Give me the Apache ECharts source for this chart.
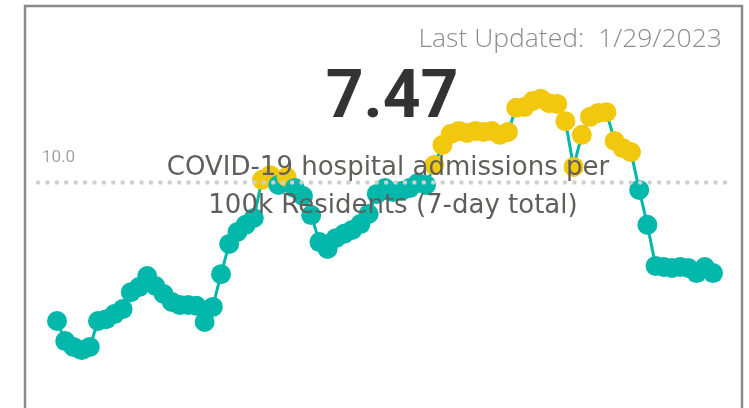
<!DOCTYPE html>
<html>
<head>
<meta charset="utf-8">
<script src="https://cdn.jsdelivr.net/npm/echarts@6/dist/echarts.min.js"></script>
<style>
  html, body { margin: 0; padding: 0; background: #fff; }
  #chart { width: 749px; height: 408px; }
</style>
</head>
<body>
<div id="chart"></div>
<script>
// 7-day hospital admissions per 100k, one value per day
var admissions = [
  6.14, 5.58, 5.42, 5.33, 5.42, 6.14, 6.19, 6.33, 6.47, 6.94,
  7.08, 7.39, 7.11, 6.89, 6.67, 6.58, 6.58, 6.56, 6.11, 6.53,
  7.44, 8.28, 8.61, 8.81, 9.00, 10.06, 10.19, 9.92, 10.14, 9.83,
  9.61, 9.08, 8.33, 8.14, 8.44, 8.56, 8.67, 8.83, 9.11, 9.67,
  9.83, 9.72, 9.75, 9.83, 9.97, 9.92, 10.47, 11.03, 11.33, 11.42,
  11.36, 11.42, 11.39, 11.42, 11.31, 11.39, 12.06, 12.08, 12.25, 12.31,
  12.19, 12.17, 11.69, 10.42, 11.31, 11.81, 11.92, 11.94, 11.14, 10.94,
  10.83, 9.78, 8.81, 7.67, 7.64, 7.61, 7.64, 7.61, 7.47, 7.64,
  7.47
];
var threshold = 10;
var latestValue = '7.47';
var lastUpdated = '1/29/2023';

var teal = '#01B8AA';
var yellow = '#F2C80F';

var points = admissions.map(function (v, i) { return [i, v]; });

var myChart = echarts.init(document.getElementById('chart'));
myChart.setOption({
  backgroundColor: '#fff',
  animation: false,
  grid: { left: 38, right: 21, top: 38, bottom: 10 },
  xAxis: {
    type: 'value',
    min: -2.32,
    max: admissions.length - 1 + 1.83,
    show: false
  },
  yAxis: {
    type: 'value',
    min: 4,
    max: 14,
    show: false
  },
  series: [{
    type: 'line',
    data: points,
    symbol: 'circle',
    symbolSize: 20,
    showAllSymbol: true,
    lineStyle: { color: teal, width: 3 },
    itemStyle: {
      color: function (p) { return p.value[1] >= threshold ? yellow : teal; }
    },
    markLine: {
      silent: true,
      symbol: 'none',
      lineStyle: { color: '#cfcfcf', width: 4.5, type: [0.01, 9.4], cap: 'round' },
      label: {
        show: true,
        position: 'insideStartTop',
        formatter: '10.0',
        color: '#a4a6ae',
        fontFamily: 'Roboto',
        fontSize: 17,
        distance: [4, 16]
      },
      data: [{ yAxis: threshold }]
    }
  }],
  graphic: [
    {
      type: 'rect',
      shape: { x: 25, y: 6, width: 717, height: 420 },
      style: { fill: 'none', stroke: '#8a8a8a', lineWidth: 2.5 },
      z: 200
    },
    {
      type: 'text',
      x: 722, y: 39,
      style: {
        text: 'Last Updated:  ' + lastUpdated,
        fill: '#8c8c8c',
        font: '300 26.5px "Open Sans"',
        align: 'right',
        verticalAlign: 'middle'
      },
      z: 100
    },
    {
      type: 'text',
      x: 392, y: 100,
      style: {
        text: latestValue,
        fill: '#333',
        font: 'bold 66px Roboto',
        align: 'center',
        verticalAlign: 'middle'
      },
      z: 100
    },
    {
      type: 'text',
      x: 388, y: 168,
      style: {
        text: 'COVID-19 hospital admissions per',
        fill: '#605E5C',
        font: '26px "DejaVu Sans"',
        align: 'center',
        verticalAlign: 'middle'
      },
      z: 100
    },
    {
      type: 'text',
      x: 393, y: 206,
      style: {
        text: '100k Residents (7-day total)',
        fill: '#605E5C',
        font: '26px "DejaVu Sans"',
        align: 'center',
        verticalAlign: 'middle'
      },
      z: 100
    }
  ]
});
</script>
</body>
</html>
